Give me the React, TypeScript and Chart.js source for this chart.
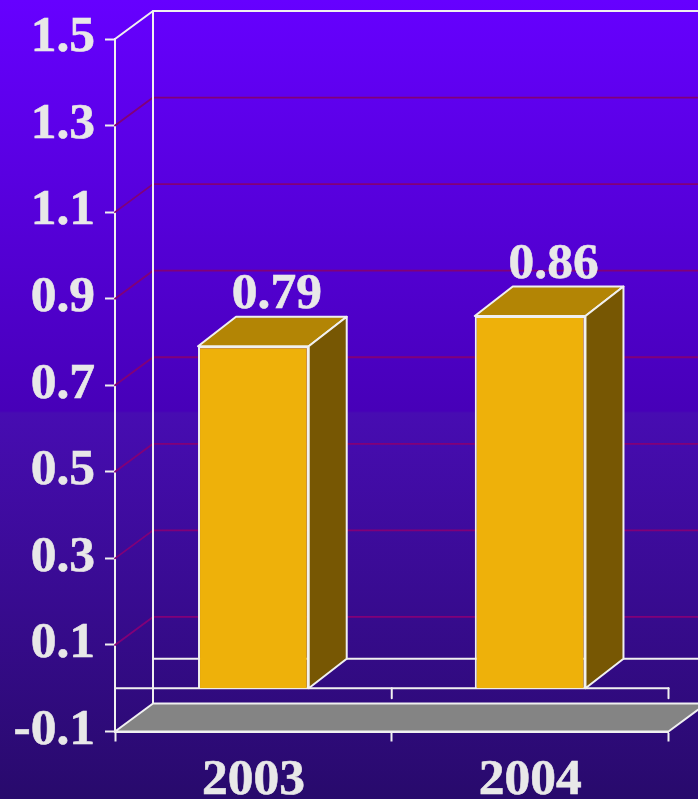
import React, { useEffect, useRef } from "react";
import { Chart, registerables } from "chart.js";

Chart.register(...registerables);

const categories = ["2003", "2004"];
const values = [0.79, 0.86];

const W = 698;
const H = 799;
const WHITE = "#f0f0f0";
const TEXT = "#e8e8e8";
const GRID = "#820078";
const DX = 38;
const DY = 28;
const BAR_DY = 29.5;
const LINE = 2;
const FONT_SIZE = 51.5;
const FONT = "'Liberation Serif', 'Times New Roman', serif";

const depthPlugin = {
  id: "depth3d",
  beforeDraw(chart: any) {
    const c = chart.ctx;
    const g = c.createLinearGradient(0, 0, 0, H);
    g.addColorStop(0, "#6600ff");
    g.addColorStop(411 / H, "#4700b8");
    g.addColorStop(413 / H, "#470cb2");
    g.addColorStop(1, "#280a6c");
    c.fillStyle = g;
    c.fillRect(0, 0, W, H);
  },
  beforeDatasetsDraw(chart: any) {
    const c = chart.ctx;
    const y = chart.scales.y;
    const { left, right, top, bottom } = chart.chartArea;
    c.save();
    c.lineCap = "round";
    c.lineJoin = "round";

    // Gridlines on the side and back walls
    c.strokeStyle = GRID;
    c.lineWidth = 1.8;
    y.ticks.forEach((t: any) => {
      if (t.value <= y.min + 1e-6 || t.value >= y.max - 1e-6) return;
      const py = y.getPixelForValue(t.value);
      c.beginPath();
      c.moveTo(left, py);
      c.lineTo(left + DX, py - DY);
      c.lineTo(W + 2, py - DY);
      c.stroke();
    });

    c.strokeStyle = WHITE;
    c.lineWidth = LINE;
    // top of the box
    c.beginPath();
    c.moveTo(left, top);
    c.lineTo(left + DX, top - DY);
    c.lineTo(W + 2, top - DY);
    c.stroke();
    // back-left edge
    c.beginPath();
    c.moveTo(left + DX, top - DY);
    c.lineTo(left + DX, bottom - DY);
    c.stroke();

    // floor
    c.fillStyle = "#848484";
    c.beginPath();
    c.moveTo(left, bottom);
    c.lineTo(left + DX, bottom - DY);
    c.lineTo(right + DX, bottom - DY);
    c.lineTo(right, bottom);
    c.closePath();
    c.fill();
    c.stroke();

    // zero plane
    const z = y.getPixelForValue(0);
    c.beginPath();
    c.moveTo(left + DX, z - BAR_DY);
    c.lineTo(W + 2, z - BAR_DY);
    c.stroke();
    c.beginPath();
    c.moveTo(left, z);
    c.lineTo(right, z);
    c.stroke();
    [(left + right) / 2, right].forEach((ex) => {
      c.beginPath();
      c.moveTo(ex, z);
      c.lineTo(ex, z + 10);
      c.stroke();
    });

    // bar depth faces
    const meta = chart.getDatasetMeta(0);
    meta.data.forEach((bar: any) => {
      const l = bar.x - bar.width / 2;
      const r = bar.x + bar.width / 2;
      const t = bar.y;
      const b = bar.base;
      c.strokeStyle = WHITE;
      c.fillStyle = "#b38505";
      c.beginPath();
      c.moveTo(l, t);
      c.lineTo(l + DX, t - BAR_DY);
      c.lineTo(r + DX, t - BAR_DY);
      c.lineTo(r, t);
      c.closePath();
      c.fill();
      c.stroke();
      c.fillStyle = "#775703";
      c.beginPath();
      c.moveTo(r, t);
      c.lineTo(r + DX, t - BAR_DY);
      c.lineTo(r + DX, b - BAR_DY);
      c.lineTo(r, b);
      c.closePath();
      c.fill();
      c.stroke();
    });
    c.restore();
  },
  afterDatasetsDraw(chart: any) {
    const c = chart.ctx;
    const meta = chart.getDatasetMeta(0);
    c.save();
    c.fillStyle = TEXT;
    c.strokeStyle = TEXT;
    c.lineWidth = 0.6;
    c.font = `bold ${FONT_SIZE}px ${FONT}`;
    c.textAlign = "center";
    c.textBaseline = "alphabetic";
    meta.data.forEach((bar: any, i: number) => {
      const s = values[i].toFixed(2);
      c.fillText(s, bar.x + 23.5, bar.y - BAR_DY - 8.5);
      c.strokeText(s, bar.x + 23.5, bar.y - BAR_DY - 8.5);
    });
    c.restore();
  },
};

export default function App() {
  const ref = useRef<HTMLCanvasElement | null>(null);
  useEffect(() => {
    if (!ref.current) return;
    const chart = new Chart(ref.current, {
      type: "bar",
      data: {
        labels: categories,
        datasets: [
          {
            data: values,
            backgroundColor: "#eeb10a",
            borderColor: WHITE,
            borderWidth: LINE,
            barPercentage: 0.4,
            categoryPercentage: 1,
          },
        ],
      },
      options: {
        responsive: false,
        animation: false,
        devicePixelRatio: 1,
        layout: { padding: { top: 39, right: 29.5, left: 0, bottom: 0 } },
        plugins: { legend: { display: false }, tooltip: { enabled: false } },
        scales: {
          x: {
            afterFit(s: any) {
              s.height = 67.5;
            },
            grid: {
              offset: true,
              drawOnChartArea: false,
              drawTicks: true,
              tickLength: 10,
              tickColor: WHITE,
              tickWidth: LINE,
            },
            border: { display: true, color: WHITE, width: LINE },
            ticks: {
              color: TEXT,
              padding: 8,
              maxRotation: 0,
              textStrokeColor: TEXT,
              textStrokeWidth: 0.6,
              font: { family: FONT, size: FONT_SIZE, weight: "bold" },
            },
          },
          y: {
            min: -0.1,
            max: 1.5,
            afterFit(s: any) {
              s.width = 115;
            },
            grid: {
              drawOnChartArea: false,
              drawTicks: true,
              tickLength: 10,
              tickColor: WHITE,
              tickWidth: LINE,
            },
            border: { display: true, color: WHITE, width: LINE },
            ticks: {
              stepSize: 0.2,
              autoSkip: false,
              color: TEXT,
              padding: 10,
              textStrokeColor: TEXT,
              textStrokeWidth: 0.6,
              font: { family: FONT, size: FONT_SIZE, weight: "bold", lineHeight: "2px" },
              callback: (v: any) => [Number(v).toFixed(1), ""],
            },
          },
        },
      },
      plugins: [depthPlugin],
    } as any);
    return () => chart.destroy();
  }, []);
  return (
    <canvas
      ref={ref}
      width={W}
      height={H}
      style={{ position: "absolute", left: 0, top: 0, width: W, height: H, display: "block" }}
    />
  );
}
